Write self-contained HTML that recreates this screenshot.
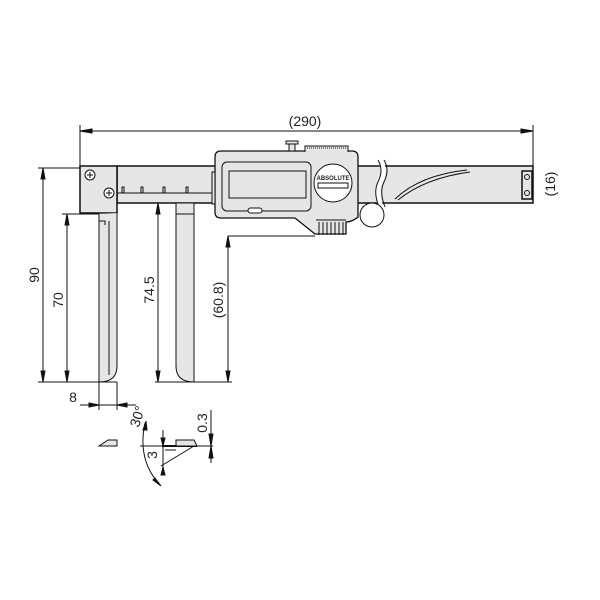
<!DOCTYPE html>
<html><head><style>body{margin:0;background:#fff}svg{display:block}text{font-family:"Liberation Sans",sans-serif;fill:#222}</style></head><body>
<svg width="600" height="600" viewBox="0 0 600 600" xmlns="http://www.w3.org/2000/svg">
<g stroke="#111" stroke-width="1" fill="none">
<line x1="80" y1="131" x2="533" y2="131"/>
<line x1="80" y1="125" x2="80" y2="166"/>
<line x1="533" y1="125" x2="533" y2="166"/>
<path d="M80 131 l12 -2 v4z M533 131 l-12 -2 v4z" fill="#111"/>
<rect x="117" y="166" width="416" height="37" fill="#e6e6e6" stroke-width="1.5"/>
<line x1="117" y1="193" x2="215" y2="193"/>
<path d="M122 193 v-6 h2 v6 M141 193 v-6 h2 v6 M163 193 v-6 h2 v6 M186 193 v-6 h2 v6"/>
<path d="M395 199 Q420 175 467 170" />
<path d="M398 200 Q425 178 470 172" />
<rect x="522" y="171" width="10" height="28" fill="#e6e6e6" stroke-width="1.5"/>
<circle cx="527" cy="177" r="2.5"/><circle cx="527" cy="193" r="2.5"/>
<path d="M380 160 q6 10 0 22 q-5 10 1 25" stroke="#fff" stroke-width="5"/>
<path d="M378 160 q6 10 0 22 q-5 10 1 25 M384 160 q6 10 0 22 q-5 10 1 25"/>
<rect x="80" y="166" width="37" height="47" fill="#e6e6e6" stroke-width="1.5"/>
<circle cx="90" cy="175" r="5" fill="#fff"/><path d="M87 175h6M90 172v6"/>
<circle cx="109" cy="193" r="5" fill="#fff"/><path d="M106 193h6M109 190v6"/>
<path d="M99 214 V382 Q117 382 117 366 V213" fill="#e6e6e6"/>
<path d="M99 221 h6 v4 M109 221 V375"/>
<path d="M176 203 V366 Q176 382 194 382 V203 Z" fill="#e6e6e6"/>
<line x1="194" y1="214" x2="194" y2="382"/><line x1="176" y1="214" x2="194" y2="214"/>
<path d="M215 157 Q215 151 221 151 H352 Q358 151 358 157 V217 Q352 222 346 222 V234 H315 Q300 222 295 218 H221 Q215 218 215 212 Z" fill="#e6e6e6" stroke-width="1.3"/>
<rect x="212" y="172" width="3" height="32" fill="#e6e6e6"/>
<rect x="222" y="162" width="89" height="49" rx="5" fill="#e6e6e6"/>
<rect x="229" y="171" width="77" height="27" fill="#e6e6e6"/>
<rect x="248" y="208" width="14" height="5" rx="2.5" fill="#fff"/>
<path d="M305 152 V146 H348 V152" fill="#e6e6e6"/>
<path d="M307 148h40" stroke-dasharray="1 1"/>
<rect x="289" y="142" width="6" height="9" fill="#e6e6e6"/>
<rect x="286" y="141" width="12" height="3" fill="#e6e6e6"/>
<circle cx="333" cy="183" r="19" fill="#fff"/>
<rect x="318" y="183" width="30" height="5" fill="#fff"/>
<path d="M316 220 h30 M319 222v13 M323 222v13 M327 222v13 M331 222v13 M335 222v13 M339 222v13 M343 222v13"/>
<circle cx="372" cy="215" r="12" fill="#fff"/>
<line x1="38" y1="168" x2="80" y2="168"/>
<line x1="62" y1="214" x2="99" y2="214"/>
<line x1="38" y1="382" x2="117" y2="382"/>
<line x1="155" y1="382" x2="232" y2="382"/>
<line x1="155" y1="203" x2="176" y2="203"/>
<line x1="228" y1="236" x2="315" y2="236"/>
<line x1="43" y1="168" x2="43" y2="382"/>
<line x1="67" y1="214" x2="67" y2="382"/>
<line x1="158" y1="203" x2="158" y2="382"/>
<line x1="228" y1="236" x2="228" y2="382"/>
<path d="M43 168l-2 11h4z M43 382l-2 -11h4z M67 214l-2 11h4z M67 382l-2 -11h4z M158 203l-2 11h4z M158 382l-2 -11h4z M228 236l-2 11h4z M228 382l-2 -11h4z" fill="#111"/>
<line x1="99" y1="382" x2="99" y2="410"/><line x1="117" y1="382" x2="117" y2="410"/>
<line x1="80" y1="405" x2="136" y2="405"/>
<path d="M99 405l-10 -2v4z M117 405l10 -2v4z" fill="#111"/>
<path d="M99 446 L117 446 L117 440 L108 440 Z" fill="#e6e6e6"/>
<line x1="140" y1="446" x2="213" y2="446"/>
<line x1="162" y1="446" x2="197" y2="446" stroke-width="2"/>
<path d="M176 446 V440 H194 L197 446 Z" fill="#e6e6e6"/>
<path d="M161 466 L194 446"/>
<line x1="165" y1="450" x2="176" y2="450"/>
<line x1="163" y1="430" x2="163" y2="470"/>
<path d="M163 446 l-2 -8h4z M163 467 l-2 8h4z" fill="#111"/>
<line x1="211" y1="410" x2="211" y2="463"/>
<path d="M211 446 l-2 -12h4z M211 446 l-2 12h4z" fill="#111"/>
<path d="M145 423 Q137 460 160 485"/>
<path d="M146 421 l-3 9 4 0z M161 486 l-8 -6 2 -2z" fill="#111"/>
</g>
<text x="305" y="126" font-size="14" text-anchor="middle">(290)</text>
<text transform="translate(555,184) rotate(-90)" font-size="14" text-anchor="middle">(16)</text>
<text transform="translate(39,275) rotate(-90)" font-size="14" text-anchor="middle">90</text>
<text transform="translate(63,300) rotate(-90)" font-size="14" text-anchor="middle">70</text>
<text transform="translate(154,290) rotate(-90)" font-size="14" text-anchor="middle">74.5</text>
<text transform="translate(223,300) rotate(-90)" font-size="14" text-anchor="middle">(60.8)</text>
<text x="73" y="402" font-size="14" text-anchor="middle">8</text>
<text transform="translate(142,418) rotate(-72)" font-size="14" text-anchor="middle">30°</text>
<text transform="translate(157,455) rotate(-90)" font-size="14" text-anchor="middle">3</text>
<text transform="translate(207,423) rotate(-90)" font-size="14" text-anchor="middle">0.3</text>
<text x="333" y="180" font-size="6" font-weight="bold" text-anchor="middle">ABSOLUTE</text>
</svg>
</body></html>
